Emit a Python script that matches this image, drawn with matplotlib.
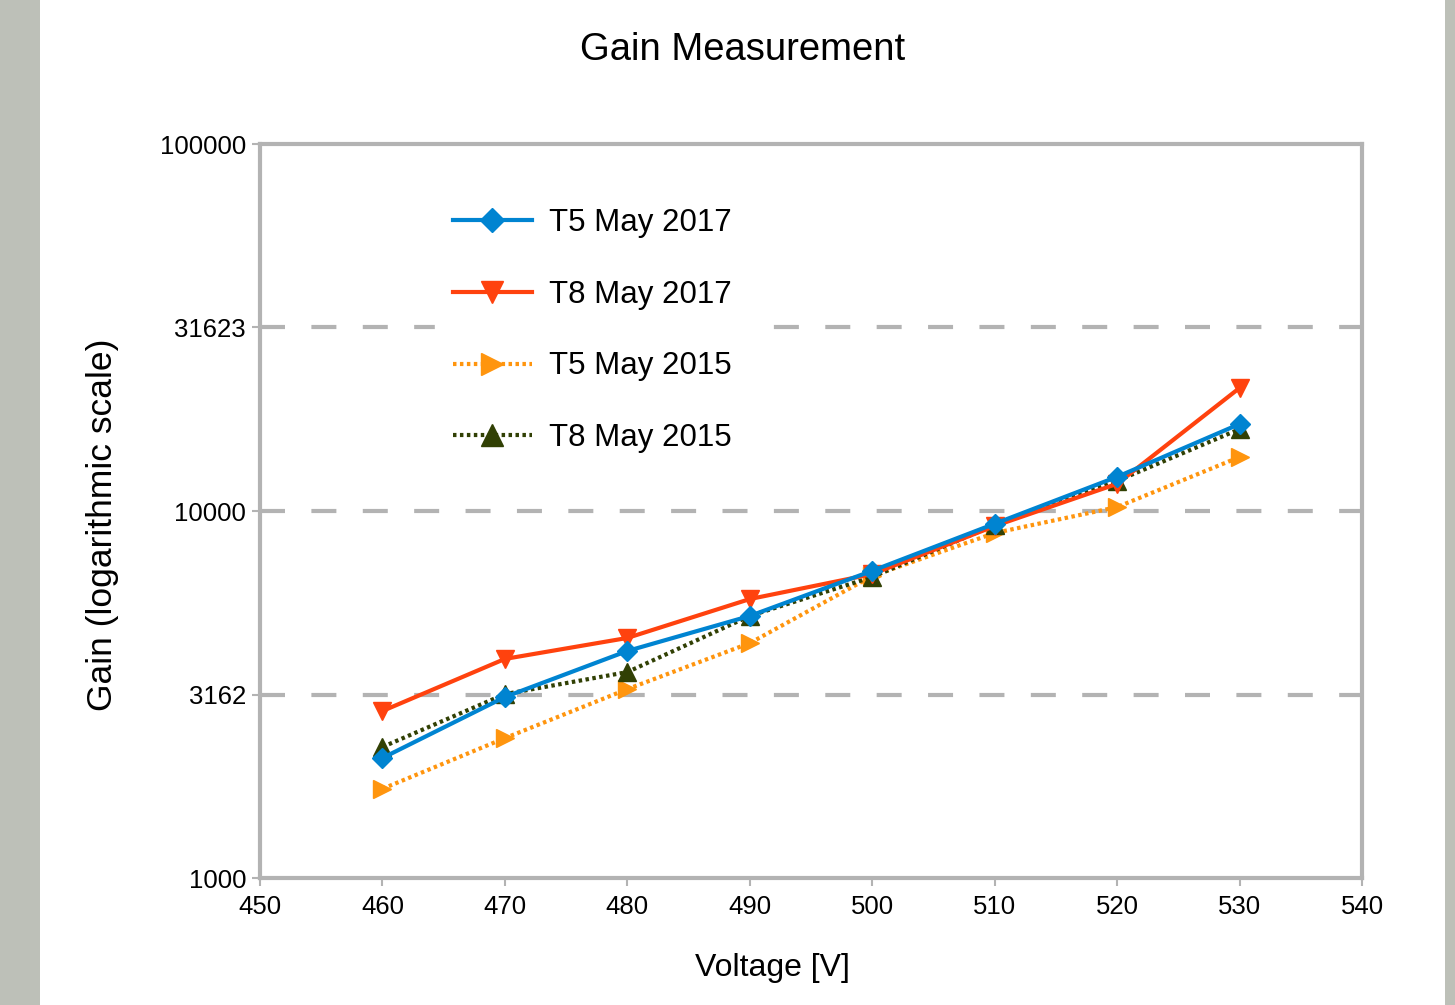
import numpy as np
import matplotlib
matplotlib.use('Agg')
import matplotlib.pyplot as plt
from matplotlib.patches import Rectangle
from matplotlib.ticker import FixedLocator, NullLocator

plt.rcParams['font.family'] = ['Liberation Sans', 'DejaVu Sans']
plt.rcParams['lines.scale_dashes'] = False

# --- data ---
voltage = [460, 470, 480, 490, 500, 510, 520, 530]
t5_2017 = [2123, 3113, 4155, 5176, 6871, 9230, 12390, 17260]
t8_2017 = [2851, 3953, 4509, 5755, 6730, 9100, 11860, 21640]
t5_2015 = [1750, 2405, 3271, 4365, 6650, 8710, 10250, 14030]
t8_2015 = [2275, 3170, 3640, 5176, 6610, 9160, 12080, 16710]

y_ticks = [1000, 3162, 10000, 31623, 100000]
y_tick_labels = ['1000', '3162', '10000', '31623', '100000']
x_ticks = [450, 460, 470, 480, 490, 500, 510, 520, 530, 540]

GREY = '#b3b3b3'

fig = plt.figure(figsize=(14.55, 10.05), dpi=100)
fig.patch.set_facecolor('white')
# grey bands at the edges of the slide
fig.patches.append(Rectangle((0, 0), 40 / 1455, 1, transform=fig.transFigure,
                             facecolor='#bdc0b8', edgecolor='none', zorder=0))
fig.patches.append(Rectangle((1445 / 1455, 0), 10 / 1455, 1, transform=fig.transFigure,
                             facecolor='#bdc0b8', edgecolor='none', zorder=0))

ax = fig.add_axes([260 / 1455, 127 / 1005, 1102 / 1455, 734 / 1005])
ax.set_yscale('log')
ax.set_ylim(1000, 100000)
ax.set_xlim(450, 540)

ax.yaxis.set_major_locator(FixedLocator(y_ticks))
ax.yaxis.set_minor_locator(NullLocator())
ax.set_yticklabels(y_tick_labels)
ax.set_xticks(x_ticks)
ax.tick_params(axis='both', labelsize=18.5, colors=GREY, labelcolor='black',
               length=6, width=1.5, direction='out')
ax.tick_params(axis='x', pad=6)
ax.tick_params(axis='y', pad=4)

for s in ax.spines.values():
    s.set_color(GREY)
    s.set_linewidth(3)

# dashed horizontal gridlines
for yv in y_ticks[1:-1]:
    ax.axhline(yv, color=GREY, lw=3, dashes=(18, 19), zorder=1)

ax.plot(voltage, t5_2017, color='#0084d1', lw=3, marker='D', markersize=10.5,
        label='T5 May 2017', zorder=5)
ax.plot(voltage, t8_2017, color='#ff420e', lw=3, marker='v', markersize=13,
        label='T8 May 2017', zorder=4)
ax.plot(voltage, t5_2015, color='#ff950e', lw=3, dashes=(2.5, 2.5), marker='>',
        markersize=13, label='T5 May 2015', zorder=3)
ax.plot(voltage, t8_2015, color='#314004', lw=3, dashes=(2.5, 2.5), marker='^',
        markersize=13, label='T8 May 2015', zorder=3)

leg = ax.legend(loc='upper left', bbox_to_anchor=(0.145, 0.957), fontsize=22.5,
                frameon=True, facecolor='white', edgecolor='white', framealpha=1,
                handlelength=2.55, labelspacing=1.33, numpoints=1, markerscale=1.2,
                borderpad=0.55, handletextpad=0.55, fancybox=False)
leg.set_zorder(6)

fig.text(743 / 1455, 1 - 50 / 1005, 'Gain Measurement', ha='center', va='center',
         fontsize=27.5)
fig.text(772 / 1455, 1 - 968 / 1005, 'Voltage [V]', ha='center', va='center',
         fontsize=23)
fig.text(103 / 1455, 1 - 525 / 1005, 'Gain (logarithmic scale)', ha='center',
         va='center', rotation=90, fontsize=25.5)

fig.savefig('out.png', dpi=100)
